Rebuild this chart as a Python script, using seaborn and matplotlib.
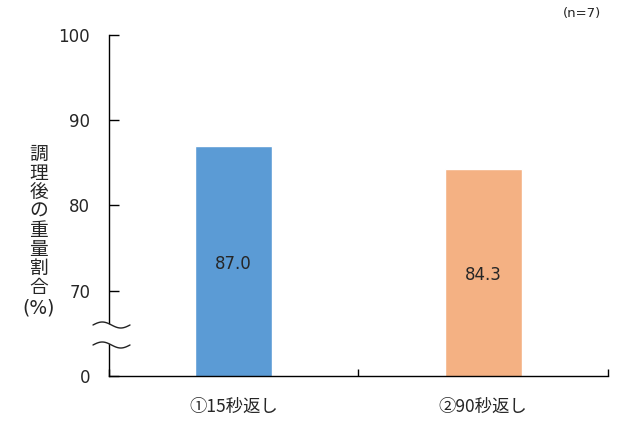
import numpy as np
import seaborn as sns
import pandas as pd
import matplotlib.pyplot as plt

categories = ["①15秒返し", "②90秒返し"]
values = [87.0, 84.3]
bar_colors = ["#5B9BD5", "#F4B183"]
tick_values = [60, 70, 80, 90, 100]
tick_labels = ["0", "70", "80", "90", "100"]
ylabel_chars = "調理後の重量割合"

sns.set_theme(style="white")
plt.rcParams['font.family'] = ['DejaVu Sans', 'Noto Sans CJK JP']
jp = ['Noto Sans CJK JP', 'DejaVu Sans']

df = pd.DataFrame({"cat": categories, "val": values})

fig = plt.figure(figsize=(6.3, 4.3), dpi=100)
ax = fig.add_axes([0.173, 0.1256, 0.792, 0.793])

sns.barplot(data=df, x="cat", y="val", hue="cat", palette=bar_colors,
            width=0.31, legend=False, ax=ax, saturation=1)

ax.set_xlim(-0.5, 1.5)
ax.set_ylim(60, 100)
ax.set_yticks(tick_values)
ax.set_yticklabels(tick_labels, fontsize=12, color="#262626")
ax.set_xticks([-0.5, 0.5, 1.5])
ax.set_xticklabels(["", "", ""])
ax.set_xticks([0, 1], minor=True)
ax.set_xticklabels(categories, minor=True, fontsize=12.5, color="#262626", family=jp)
ax.tick_params(axis="x", which="major", direction="in", length=5, width=1,
               color="black", bottom=True)
ax.tick_params(axis="x", which="minor", length=0, pad=16, bottom=True)
ax.tick_params(axis="y", direction="in", length=7, width=1, color="black",
               left=True, pad=13.5)
ax.set_xlabel("")
ax.set_ylabel("")

for s in ["top", "right"]:
    ax.spines[s].set_visible(False)
for s in ["left", "bottom"]:
    ax.spines[s].set_color("black")
    ax.spines[s].set_linewidth(1)

for i, v in enumerate(values):
    ax.text(i, (60 + v) / 2 - 0.35, f"{v:.1f}", ha="center", va="center",
            fontsize=12, color="#262626")

# y label: vertical characters, then (%)
fig.text(39 / 630, 1 - 221 / 430, "\n".join(ylabel_chars), ha="center", va="center",
         fontsize=13.5, color="#262626", linespacing=0.87, family=jp)
fig.text(39 / 630, 1 - 308 / 430, "(%)", ha="center", va="center",
         fontsize=13.5, color="#262626")

fig.text(1 - 29 / 630, 1 - 14 / 430, "(n=7)", ha="right", va="center",
         fontsize=9.5, color="#262626")

# axis break marks
xs = np.linspace(93, 130, 60)
wave = 3 * np.sin((xs - 93) / 37 * 2 * np.pi + np.pi)
y1 = 1 - (325 + wave) / 430
y2 = 1 - (345 + wave) / 430
xf = xs / 630
ax.fill_between(xf, y1, y2, transform=fig.transFigure, color="white",
                zorder=10, clip_on=False, linewidth=0)
ax.plot(xf, y1, transform=fig.transFigure, color="#222222", lw=1, zorder=11, clip_on=False)
ax.plot(xf, y2, transform=fig.transFigure, color="#222222", lw=1, zorder=11, clip_on=False)

fig.savefig("out.png", dpi=100)
